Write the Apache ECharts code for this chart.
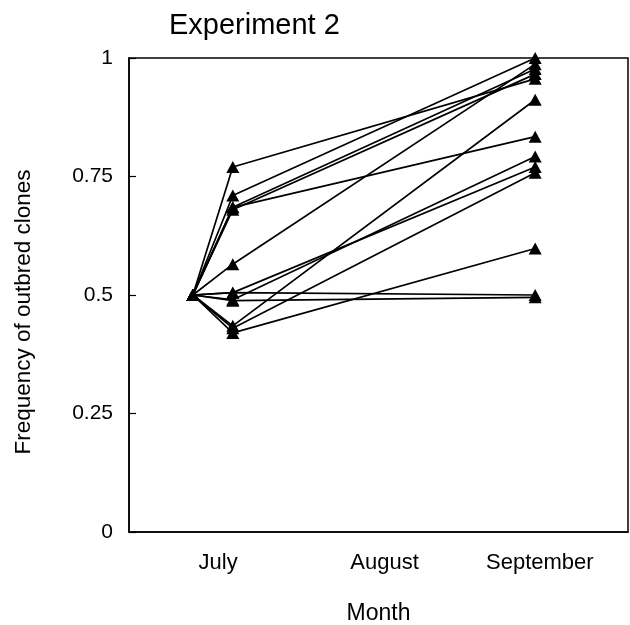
<!DOCTYPE html>
<html>
<head>
<meta charset="utf-8">
<title>Experiment 2</title>
<script src="https://cdn.jsdelivr.net/npm/echarts@6/dist/echarts.min.js"></script>
<style>
    html, body { margin: 0; padding: 0; background: #fff; }
    #chart { width: 630px; height: 625px; }
</style>
</head>
<body>
<div id="chart"></div>
<script>
// Frequency of outbred clones, experiment 2

const months = ['July', 'August', 'September'];
// sampling dates, in months counted from the start of July
const sampleTimes = [0.384, 0.624, 2.442];
const startFreq = 0.5;
// one entry per population: July value and September value
const julyFreq = [0.77, 0.71, 0.685, 0.685, 0.68, 0.565, 0.505, 0.49, 0.435, 0.43, 0.42, 0.505, 0.488];
const septFreq = [0.956, 1.0, 0.977, 0.834, 0.966, 0.987, 0.77, 0.792, 0.912, 0.758, 0.598, 0.5, 0.495];
const yTicks = [0, 0.25, 0.5, 0.75, 1];

const FONT = "'Liberation Sans', Arial, Helvetica, sans-serif";

function initChart() {
    const chart = echarts.init(document.getElementById('chart'), null, { renderer: 'canvas' });

    // una serie por poblacion: inicio -> julio -> septiembre
    const series = julyFreq.map((jv, i) => ({
        type: 'line',
        xAxisIndex: 1,
        data: [
            [sampleTimes[0], startFreq],
            [sampleTimes[1], jv],
            [sampleTimes[2], septFreq[i]]
        ],
        symbol: 'triangle',
        symbolSize: [13, 12],
        itemStyle: { color: '#000' },
        lineStyle: { color: '#000', width: 1.7 },
        silent: true
    }));

    // the original month labels sit a little off the category centres
    const labelStyle = { fontFamily: FONT, fontSize: 22, color: '#000' };
    const monthRich = {
        m0: Object.assign({ padding: [0, 0, 0, 12] }, labelStyle),
        m1: Object.assign({ padding: [0, 0, 0, 12] }, labelStyle),
        m2: Object.assign({ padding: [0, 10, 0, 0] }, labelStyle)
    };

    const option = {
        animation: false,
        backgroundColor: '#fff',
        title: {
            text: 'Experiment 2',
            left: 164,
            top: 6,
            textStyle: { fontFamily: FONT, fontSize: 29, fontWeight: 'normal', color: '#000' }
        },
        grid: {
            left: 129, right: 2, top: 58, bottom: 93,
            outerBoundsMode: 'none',
            show: true,
            borderColor: '#000',
            borderWidth: 1.5
        },
        // rotated y axis title, placed by hand
        graphic: [{
            type: 'text',
            x: 24,
            y: 312,
            rotation: Math.PI / 2,
            style: {
                text: 'Frequency of outbred clones',
                fontFamily: FONT,
                fontSize: 22.5,
                fill: '#000',
                align: 'center',
                verticalAlign: 'middle'
            }
        }],
        xAxis: [
            {
                type: 'category',
                data: months,
                boundaryGap: true,
                name: 'Month',
                nameLocation: 'middle',
                nameGap: 70,
                nameTextStyle: { fontFamily: FONT, fontSize: 23, color: '#000' },
                axisLine: { lineStyle: { color: '#000', width: 1.5 } },
                axisTick: { inside: true, length: 7, lineStyle: { color: '#000', width: 1.2 } },
                axisLabel: {
                    interval: 0,
                    hideOverlap: false,
                    fontFamily: FONT, fontSize: 22, color: '#000', margin: 20,
                    formatter: (val, idx) => '{m' + idx + '|' + val + '}',
                    rich: monthRich
                },
                splitLine: { show: false }
            },
            {
                type: 'value',
                min: 0,
                max: 3,
                show: false
            }
        ],
        yAxis: {
            type: 'value',
            min: yTicks[0],
            max: yTicks[yTicks.length - 1],
            interval: 0.25,
            axisLine: { show: true, lineStyle: { color: '#000', width: 1.5 } },
            axisTick: { show: true, inside: true, length: 7, lineStyle: { color: '#000', width: 1.2 } },
            axisLabel: { fontFamily: FONT, fontSize: 21, color: '#000', margin: 16 },
            splitLine: { show: false }
        },
        series: series
    };

    chart.setOption(option);
    return chart;
}

window.chartInstance = initChart();
</script>
</body>
</html>
